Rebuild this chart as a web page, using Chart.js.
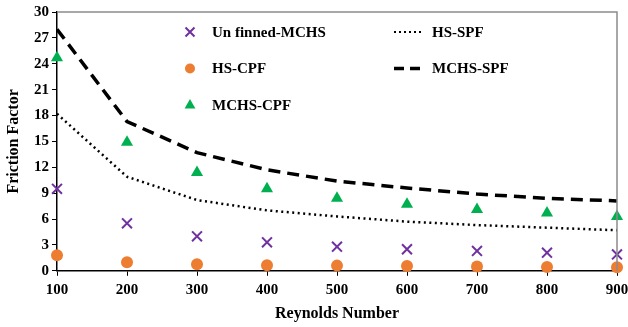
<!DOCTYPE html>
<html>
<head>
<meta charset="utf-8">
<script src="https://cdn.jsdelivr.net/npm/chart.js@4.4.1/dist/chart.umd.min.js"></script>
<style>
    html, body { margin: 0; padding: 0; background: #fff; }
    #wrap { width: 628px; height: 327px; position: relative; }
</style>
</head>
<body>
<div id="wrap"><canvas id="chart"></canvas></div>
<script>
// Data
const reynolds = [100, 200, 300, 400, 500, 600, 700, 800, 900];
const unfinnedMCHS = [9.5, 5.5, 4.0, 3.3, 2.8, 2.5, 2.3, 2.1, 1.9];
const hsCPF = [1.8, 1.0, 0.75, 0.65, 0.6, 0.55, 0.5, 0.45, 0.42];
const mchsCPF = [24.7, 14.9, 11.4, 9.5, 8.4, 7.7, 7.1, 6.7, 6.3];
const hsSPF = [18.2, 10.9, 8.2, 7.0, 6.3, 5.7, 5.3, 5.0, 4.7];
const mchsSPF = [28.0, 17.3, 13.7, 11.7, 10.4, 9.6, 8.9, 8.4, 8.1];
const yTicks = [0, 3, 6, 9, 12, 15, 18, 21, 24, 27, 30];

const FONT = "'Liberation Serif', 'Times New Roman', serif";

const toXY = arr => arr.map((v, i) => ({ x: reynolds[i], y: v }));

// legend entries (drawn inside the plot, two columns)
const legendItems = [
    { label: 'Un finned-MCHS', col: 0, row: 0, type: 'point', style: 'crossRot', color: '#7030A0', r: 6 },
    { label: 'HS-CPF', col: 0, row: 1, type: 'point', style: 'circle', color: '#ED7D31', r: 5 },
    { label: 'MCHS-CPF', col: 0, row: 2, type: 'point', style: 'triangle', color: '#00B050', r: 6 },
    { label: 'HS-SPF', col: 1, row: 0, type: 'line', dash: [2, 3], width: 2 },
    { label: 'MCHS-SPF', col: 1, row: 1, type: 'line', dash: [10, 6], width: 3.5 }
];

const insideLegend = {
    id: 'insideLegend',
    afterDraw(chart) {
        const ctx = chart.ctx;
        const area = chart.chartArea;
        ctx.save();
        // top and right frame
        ctx.strokeStyle = '#8c8c8c';
        ctx.lineWidth = 1.5;
        ctx.beginPath();
        ctx.moveTo(area.left, area.top);
        ctx.lineTo(area.right, area.top);
        ctx.lineTo(area.right, area.bottom);
        ctx.stroke();

        ctx.font = 'bold 15px ' + FONT;
        ctx.textBaseline = 'middle';
        legendItems.forEach(it => {
            const y = area.top + 20 + it.row * 36.5;
            if (it.type === 'point') {
                const mx = 190;
                ctx.fillStyle = it.color;
                ctx.strokeStyle = it.color;
                ctx.lineWidth = 2;
                ctx.beginPath();
                if (it.style === 'crossRot') {
                    const d = it.r * 0.75;
                    ctx.moveTo(mx - d, y - d); ctx.lineTo(mx + d, y + d);
                    ctx.moveTo(mx + d, y - d); ctx.lineTo(mx - d, y + d);
                    ctx.stroke();
                } else if (it.style === 'circle') {
                    ctx.arc(mx, y, it.r, 0, Math.PI * 2);
                    ctx.fill();
                } else {
                    ctx.moveTo(mx, y - it.r);
                    ctx.lineTo(mx + it.r * 0.9, y + it.r * 0.6);
                    ctx.lineTo(mx - it.r * 0.9, y + it.r * 0.6);
                    ctx.closePath();
                    ctx.fill();
                }
                ctx.fillStyle = '#000';
                ctx.fillText(it.label, 212, y + 1);
            } else {
                ctx.strokeStyle = '#000';
                ctx.lineWidth = it.width;
                ctx.setLineDash(it.dash);
                ctx.beginPath();
                ctx.moveTo(394, y);
                ctx.lineTo(424, y);
                ctx.stroke();
                ctx.setLineDash([]);
                ctx.fillStyle = '#000';
                ctx.fillText(it.label, 432, y + 1);
            }
        });
        ctx.restore();
    }
};

const ctx = document.getElementById('chart').getContext('2d');
new Chart(ctx, {
    type: 'scatter',
    data: {
        datasets: [
            {
                label: 'MCHS-SPF',
                data: toXY(mchsSPF),
                showLine: true,
                borderColor: '#000',
                borderWidth: 3.5,
                borderDash: [12, 7],
                pointRadius: 0,
                tension: 0
            },
            {
                label: 'HS-SPF',
                data: toXY(hsSPF),
                showLine: true,
                borderColor: '#000',
                borderWidth: 2.5,
                borderDash: [2, 3.5],
                pointRadius: 0,
                tension: 0
            },
            {
                label: 'MCHS-CPF',
                data: toXY(mchsCPF),
                pointStyle: 'triangle',
                pointRadius: 7,
                backgroundColor: '#00B050',
                borderColor: '#00B050',
                borderWidth: 0,
                clip: false
            },
            {
                label: 'Un finned-MCHS',
                data: toXY(unfinnedMCHS),
                pointStyle: 'crossRot',
                pointRadius: 7,
                borderColor: '#7030A0',
                borderWidth: 2,
                clip: false
            },
            {
                label: 'HS-CPF',
                data: toXY(hsCPF),
                pointStyle: 'circle',
                pointRadius: 6,
                backgroundColor: '#ED7D31',
                borderColor: '#ED7D31',
                borderWidth: 0,
                clip: false
            }
        ]
    },
    options: {
        responsive: true,
        maintainAspectRatio: false,
        animation: false,
        layout: { padding: { top: 11, right: 11, left: 4, bottom: 4 } },
        plugins: {
            legend: { display: false },
            tooltip: { enabled: false }
        },
        scales: {
            x: {
                type: 'linear',
                min: 100,
                max: 900,
                afterBuildTicks: axis => { axis.ticks = reynolds.map(v => ({ value: v })); },
                afterFit: axis => { axis.paddingRight = 0; axis.paddingLeft = 0; },
                border: { color: '#000', width: 1.5 },
                grid: { drawOnChartArea: false, drawTicks: true, tickLength: 5, color: '#000' },
                ticks: {
                    color: '#000',
                    padding: 5,
                    maxRotation: 0,
                    font: { family: FONT, size: 15, weight: 'bold' }
                },
                title: {
                    display: true,
                    text: 'Reynolds Number',
                    color: '#000',
                    padding: { top: 0, bottom: 0 },
                    font: { family: FONT, size: 16, weight: 'bold' }
                }
            },
            y: {
                min: 0,
                max: 30,
                afterBuildTicks: axis => { axis.ticks = yTicks.map(v => ({ value: v })); },
                border: { color: '#000', width: 1.5 },
                grid: { drawOnChartArea: false, drawTicks: true, tickLength: 5, color: '#000' },
                ticks: {
                    color: '#000',
                    padding: 3,
                    font: { family: FONT, size: 15, weight: 'bold' }
                },
                title: {
                    display: true,
                    text: 'Friction Factor',
                    color: '#000',
                    padding: { top: 0, bottom: 2 },
                    font: { family: FONT, size: 16, weight: 'bold' }
                },
                afterFit: axis => { axis.width = 53; }
            }
        }
    },
    plugins: [insideLegend]
});
</script>
</body>
</html>
